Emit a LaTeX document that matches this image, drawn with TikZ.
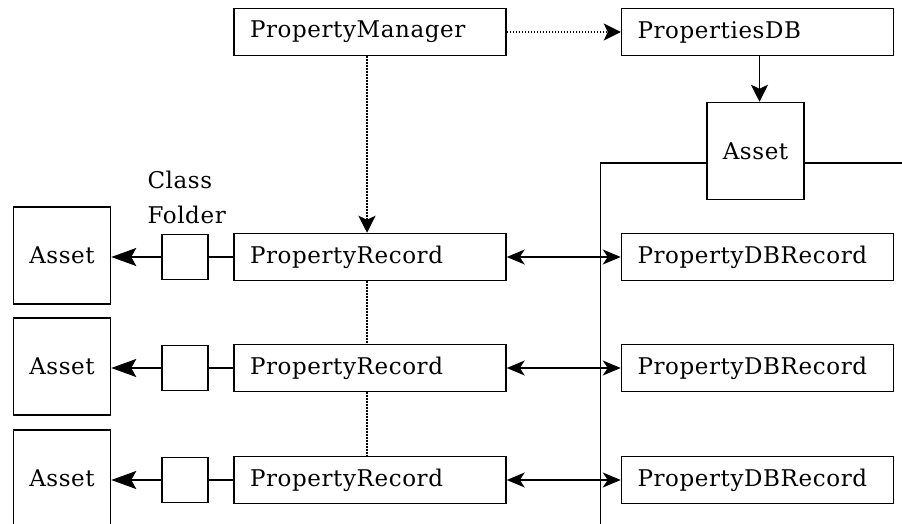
\documentclass[tikz,border=0pt]{standalone}
\usepackage{fontspec}
\setmainfont[LetterSpace=2.6]{DejaVu Serif}
\usetikzlibrary{arrows.meta}
\begin{document}
\begin{tikzpicture}[x=1pt,y=-1pt,
  txt/.style={font=\fontsize{23}{35}\selectfont},
  box/.style={txt, draw, line width=1.5pt, minimum height=47pt, text width=240pt, inner xsep=16pt, inner ysep=0pt, align=left},
  sq/.style={txt, draw, line width=1.5pt, minimum width=97pt, minimum height=97pt, inner sep=0pt},
  smallbox/.style={draw, line width=1.5pt, minimum width=46pt, minimum height=45pt, inner sep=0pt},
  ln/.style={line width=1.5pt},
  dots/.style={line width=1.2pt, dash pattern=on 1.3pt off 1.7pt},
  bigtip/.style={-{Stealth[length=25pt,width=18pt,inset=5pt]}},
  tip/.style={-{Stealth[length=17pt,width=17pt,inset=4pt]}},
  dtip/.style={{Stealth[length=18pt,width=15pt,inset=5pt]}-{Stealth[length=18pt,width=15pt,inset=5pt]}}]
\useasboundingbox (0,0) rectangle (902,524);
\clip (0,0) rectangle (902,524);

\node[box] (pm) at (370,32) {PropertyManager};
\node[box] (pdb) at (757.5,32) {PropertiesDB};
\node[sq] (at) at (755.5,151) {Asset};

\foreach \i/\y in {1/257,2/368,3/480}{
  \node[box] (pr\i) at (370,\y) {PropertyRecord};
  \node[box] (db\i) at (757.5,\y) {PropertyDBRecord};
  \node[smallbox] (cf\i) at (185,\y) {};
  \node[sq] (a\i) at (62,\y-1.5) {Asset};
  \draw[ln] (cf\i.east) -- (pr\i.west);
  \draw[ln,bigtip] (cf\i.west) -- (a\i.east |- cf\i.west);
  \draw[ln,dtip] (pr\i.east) -- (db\i.west);
}

\node[txt, anchor=south west, align=left] (cfl) at (144,227) {Class\\Folder};

\draw[dots,tip] (pm.east) -- (pdb.west);
\draw[ln,tip] ([xshift=2pt]pdb.south) -- ([xshift=2pt]pdb.south |- at.north);
\draw[dots,tip] ([xshift=-3pt]pm.south) -- ([xshift=-3pt]pr1.north);
\draw[dots] ([xshift=-3pt]pr1.south) -- ([xshift=-3pt]pr2.north);
\draw[dots] ([xshift=-3pt]pr2.south) -- ([xshift=-3pt]pr3.north);

\coordinate (busL) at (600.7,163);
\coordinate (busB) at (600.7,530);
\coordinate (busR) at (910,163);
\draw[ln] (at.west |- busL) -- (busL) -- (busB);
\draw[ln] (at.east |- busR) -- (busR);
\end{tikzpicture}
\end{document}
